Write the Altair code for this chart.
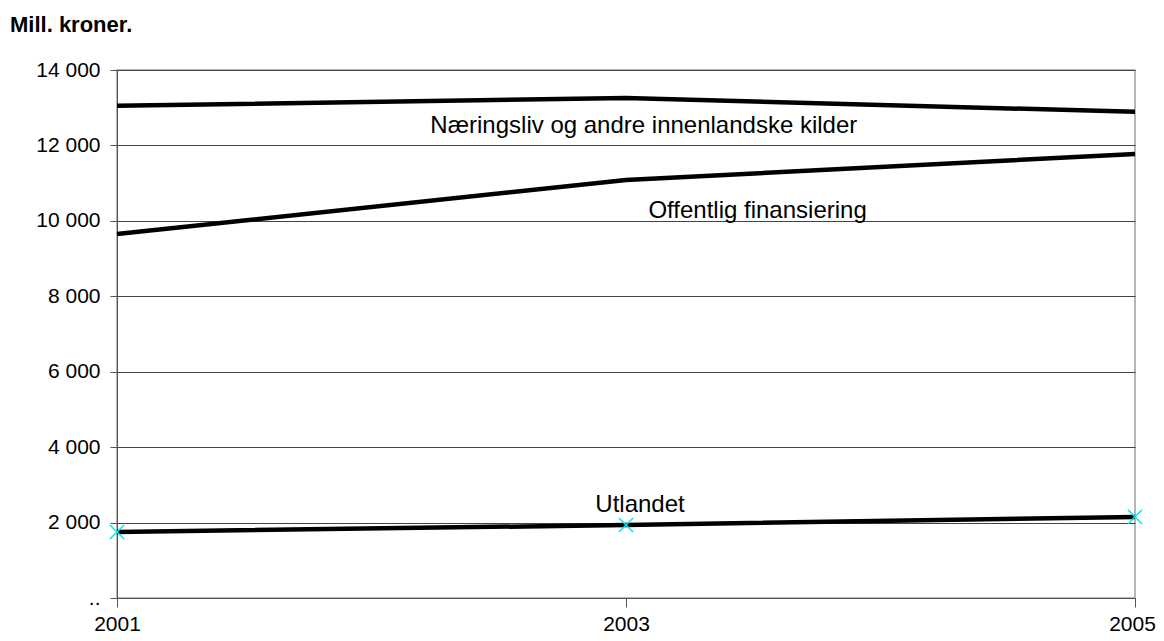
import altair as alt
import pandas as pd

years = [2001, 2003, 2005]
naeringsliv = [13050, 13260, 12890]
offentlig = [9650, 11085, 11775]
utlandet = [1750, 1935, 2150]

label_texts = ["Næringsliv og andre innenlandske kilder", "Offentlig finansiering", "Utlandet"]
label_x = [2003.07, 2003.517, 2003.055]
label_y = [12330, 10077, 2280]

rows = []
for name, vals in [("Næringsliv", naeringsliv), ("Offentlig", offentlig), ("Utlandet", utlandet)]:
    for yr, v in zip(years, vals):
        rows.append({"serie": name, "år": yr, "verdi": v})
df = pd.DataFrame(rows)
df_ut = pd.DataFrame({"år": years, "verdi": utlandet})
df_lab = pd.DataFrame({"tekst": label_texts, "år": label_x, "verdi": label_y})

FONT = "Liberation Sans"

xscale = alt.Scale(domain=[2001, 2005], nice=False, zero=False)
yscale = alt.Scale(domain=[0, 14000], nice=False)

xaxis = alt.Axis(values=years, format="d", title=None, grid=False, tickSize=9,
                 labelPadding=23, labelBaseline="alphabetic", labelFontSize=21, labelFont=FONT,
                 labelOffset=alt.condition("datum.value == 2005", alt.value(-3), alt.value(0)),
                 labelColor="black", domainColor="#555555", tickColor="#555555", labelFlush=False)
yaxis = alt.Axis(values=list(range(0, 14001, 2000)), title=None, grid=True,
                 gridColor="#444444", gridWidth=1, tickSize=7, labelPadding=10,
                 labelFontSize=21, labelFont=FONT, labelColor="black",
                 domainColor="#555555", tickColor="#555555",
                 labelExpr="datum.value == 0 ? '..' : replace(format(datum.value, ',d'), ',', ' ')")

lines = alt.Chart(df).mark_line(color="black", strokeWidth=4.5).encode(
    x=alt.X("år:Q", scale=xscale, axis=xaxis),
    y=alt.Y("verdi:Q", scale=yscale, axis=yaxis),
    detail="serie:N",
)

points = alt.Chart(df_ut).mark_point(
    shape="M-1,-1L1,1M-1,1L1,-1", stroke="#00e8ee", filled=False, size=200, strokeWidth=1.5,
    opacity=1
).encode(x=alt.X("år:Q", scale=xscale), y=alt.Y("verdi:Q", scale=yscale))

labels = alt.Chart(df_lab).mark_text(fontSize=24, font=FONT, color="black", align="center",
                                     baseline="alphabetic").encode(
    x=alt.X("år:Q", scale=xscale), y=alt.Y("verdi:Q", scale=yscale), text="tekst:N"
)

chart = alt.layer(lines, points, labels).properties(
    width=1018, height=528,
    title=alt.TitleParams("Mill. kroner.", anchor="start", frame="group", dx=-107, offset=22,
                          fontSize=22, font=FONT, fontWeight="bold", color="black"),
    autosize=alt.AutoSizeParams(type="none"),
    padding={"left": 109, "top": 62, "right": 21, "bottom": 35},
).configure_view(stroke="#a0a0a0", strokeWidth=1.5)

chart.save("out.html", embed_options={"renderer": "svg", "actions": False})
